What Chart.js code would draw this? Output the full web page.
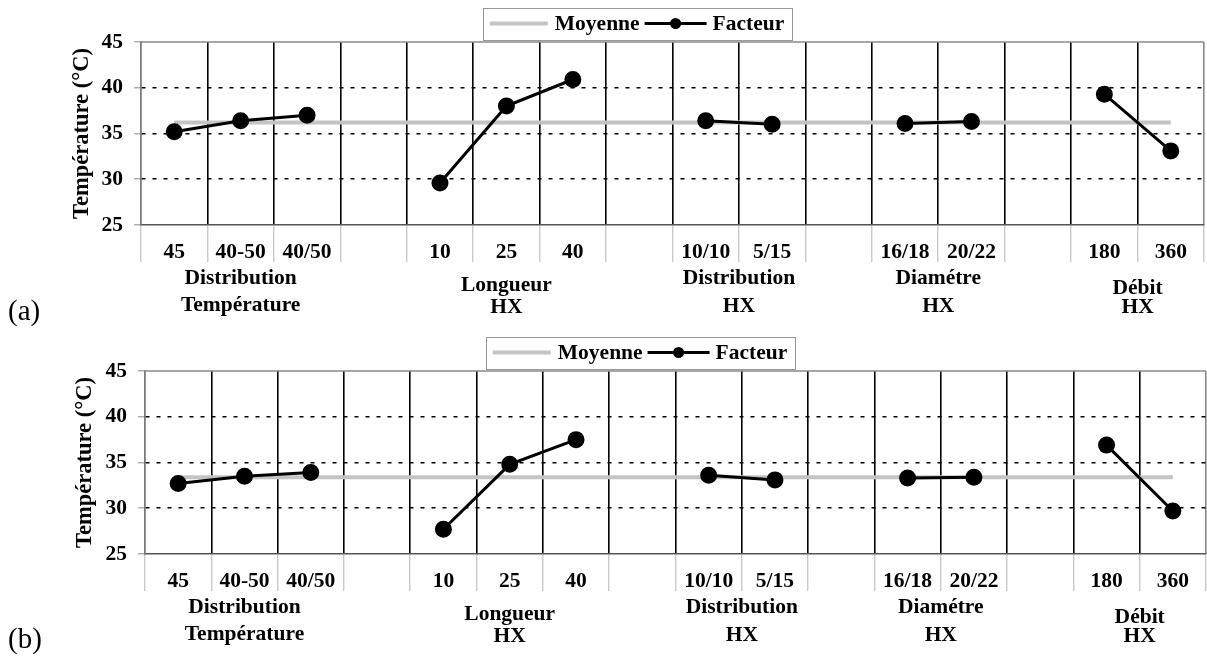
<!DOCTYPE html>
<html>
<head>
<meta charset="utf-8">
<script src="https://cdn.jsdelivr.net/npm/chart.js@4.4.1/dist/chart.umd.min.js"></script>
<style>
  body { margin: 0; background: #fff; }
  .wrap { position: relative; width: 1207px; height: 657px; overflow: hidden; }
  .wrap canvas { position: absolute; left: 0; }
  .tag { position: absolute; left: 8px; font: 29px 'Liberation Serif', serif; color: #000; }
</style>
</head>
<body>
<div class="wrap">
  <canvas id="chartA" width="1207" height="330" style="top:0"></canvas>
  <canvas id="chartB" width="1207" height="327" style="top:330px"></canvas>
  <div class="tag" style="top:294px">(a)</div>
  <div class="tag" style="top:622px">(b)</div>
</div>
<script>
// columns of the plot, '' = empty spacer column between factors
const categories = ['45', '40-50', '40/50', '', '10', '25', '40', '', '10/10', '5/15', '', '16/18', '20/22', '', '180', '360']

// factor groups under the axis, with the first/last column they cover
const groupLabels = [['Distribution', 'Température'], ['Longueur', 'HX'], ['Distribution', 'HX'], ['Diamétre', 'HX'], ['Débit', 'HX']]
const groupSpans = [[0, 2], [4, 6], [8, 9], [11, 12], [14, 15]]

// (a)
const factorA = [35.2, 36.4, 37.0, null, 29.6, 38.0, 40.9, null, 36.4, 36.0, null, 36.1, 36.3, null, 39.3, 33.1]
const meanA = 36.2
// (b)
const factorB = [32.7, 33.5, 33.9, null, 27.7, 34.8, 37.5, null, 33.6, 33.1, null, 33.3, 33.4, null, 36.9, 29.7]
const meanB = 33.4

const yTicks = [25, 30, 35, 40, 45]

const FAMILY = "'Liberation Serif', 'Times New Roman', serif"
const FONT = 'bold 21.5px ' + FAMILY
// vertical offset (px below plot) of each line of the group labels
const groupLineY = [[53, 80], [60, 82], [53, 81], [53, 81], [63, 82]]

const decor = {
  id: 'decor',
  afterDraw (chart) {
    const { ctx, chartArea: a, scales: { x } } = chart
    ctx.save()
    // top frame line
    ctx.strokeStyle = '#8a8a8a'
    ctx.lineWidth = 1.5
    ctx.beginPath(); ctx.moveTo(a.left, a.top); ctx.lineTo(a.right, a.top); ctx.stroke()

    // factor names
    ctx.fillStyle = '#000'
    ctx.font = FONT
    ctx.textAlign = 'center'
    ctx.textBaseline = 'middle'
    groupLabels.forEach((lines, g) => {
      const [i0, i1] = groupSpans[g]
      const cx = (x.getPixelForValue(i0) + x.getPixelForValue(i1)) / 2
      lines.forEach((t, k) => ctx.fillText(t, cx, a.bottom + groupLineY[g][k]))
    })

    // boxed legend
    const fac = chart.data.datasets[0]
    const moy = chart.data.datasets[1]
    const wM = ctx.measureText(moy.label).width
    const wF = ctx.measureText(fac.label).width
    const boxW = 7 + 58 + 7 + wM + 5 + 62 + 6 + wF + 8
    const bx = (a.left + a.right) / 2 - 35 - boxW / 2
    const by = a.top - 34.5
    const bh = 32
    const my = by + bh / 2
    ctx.fillStyle = '#fff'
    ctx.fillRect(bx, by, boxW, bh)
    ctx.strokeStyle = '#999'
    ctx.lineWidth = 1
    ctx.strokeRect(Math.round(bx) + 0.5, Math.round(by) + 0.5, Math.round(boxW), bh)
    let px = bx + 7
    ctx.strokeStyle = moy.borderColor
    ctx.lineWidth = 4
    ctx.beginPath(); ctx.moveTo(px, my); ctx.lineTo(px + 58, my); ctx.stroke()
    px += 65
    ctx.fillStyle = '#000'
    ctx.textAlign = 'left'
    ctx.fillText(moy.label, px, my + 1)
    px += wM + 5
    ctx.strokeStyle = '#000'
    ctx.lineWidth = 3
    ctx.beginPath(); ctx.moveTo(px, my); ctx.lineTo(px + 62, my); ctx.stroke()
    ctx.beginPath(); ctx.arc(px + 31, my, 5.5, 0, Math.PI * 2); ctx.fill()
    px += 68
    ctx.fillText(fac.label, px, my + 1)
    ctx.restore()
  }
}

function makeChart (id, factor, mean, lay) {
  const last = categories.length - 1
  const tickFont = { family: FAMILY, size: 21.5, weight: 'bold' }
  return new Chart(document.getElementById(id), {
    type: 'line',
    data: {
      labels: categories,
      datasets: [
        {
          label: 'Facteur', data: factor, spanGaps: false,
          borderColor: '#000', borderWidth: 3,
          pointRadius: 7, pointBackgroundColor: '#000', pointBorderColor: '#000'
        },
        {
          label: 'Moyenne',
          data: [{ x: categories[0], y: mean }, { x: categories[last], y: mean }],
          borderColor: '#c4c4c4', borderWidth: 4, pointRadius: 0
        }
      ]
    },
    options: {
      responsive: false,
      animation: false,
      layout: { autoPadding: false, padding: { top: lay.top, right: lay.right, left: 0, bottom: 0 } },
      plugins: { legend: { display: false }, tooltip: { enabled: false } },
      scales: {
        x: {
          offset: true,
          afterFit: s => { s.height = lay.xHeight },
          grid: {
            offset: true,
            color: c => (c.index === undefined || c.index === 0) ? '#8a8a8a' : '#000',
            lineWidth: 1.6,
            tickLength: 37,
            tickColor: '#b4b4b4',
            tickWidth: 1
          },
          border: { color: '#555', width: 1.5 },
          ticks: { color: '#000', font: tickFont, padding: -22.8, autoSkip: false, maxRotation: 0 }
        },
        y: {
          min: yTicks[0], max: yTicks[yTicks.length - 1],
          afterFit: s => { s.width = lay.left },
          afterBuildTicks: s => { s.ticks = yTicks.map(v => ({ value: v })) },
          grid: {
            color: c => (c.tick && (c.tick.value === 25 || c.tick.value === 45)) ? 'rgba(0,0,0,0)' : '#000',
            lineWidth: 1.6,
            tickLength: 7,
            tickColor: '#8a8a8a',
            tickWidth: 1
          },
          border: { color: '#7a7a7a', width: 1.5, dash: [4, 7] },
          ticks: { color: '#000', font: tickFont, padding: 11 },
          title: {
            display: true, text: 'Température (°C)', color: '#000',
            font: { family: FAMILY, size: 22.5, weight: 'bold' },
            padding: { top: lay.titleOff, bottom: 0 }
          }
        }
      }
    },
    plugins: [decor]
  })
}

makeChart('chartA', factorA, meanA, { top: 42, right: 3, left: 141, xHeight: 105, titleOff: 69 })
makeChart('chartB', factorB, meanB, { top: 41, right: 1, left: 145, xHeight: 103, titleOff: 72 })
</script>
</body>
</html>
